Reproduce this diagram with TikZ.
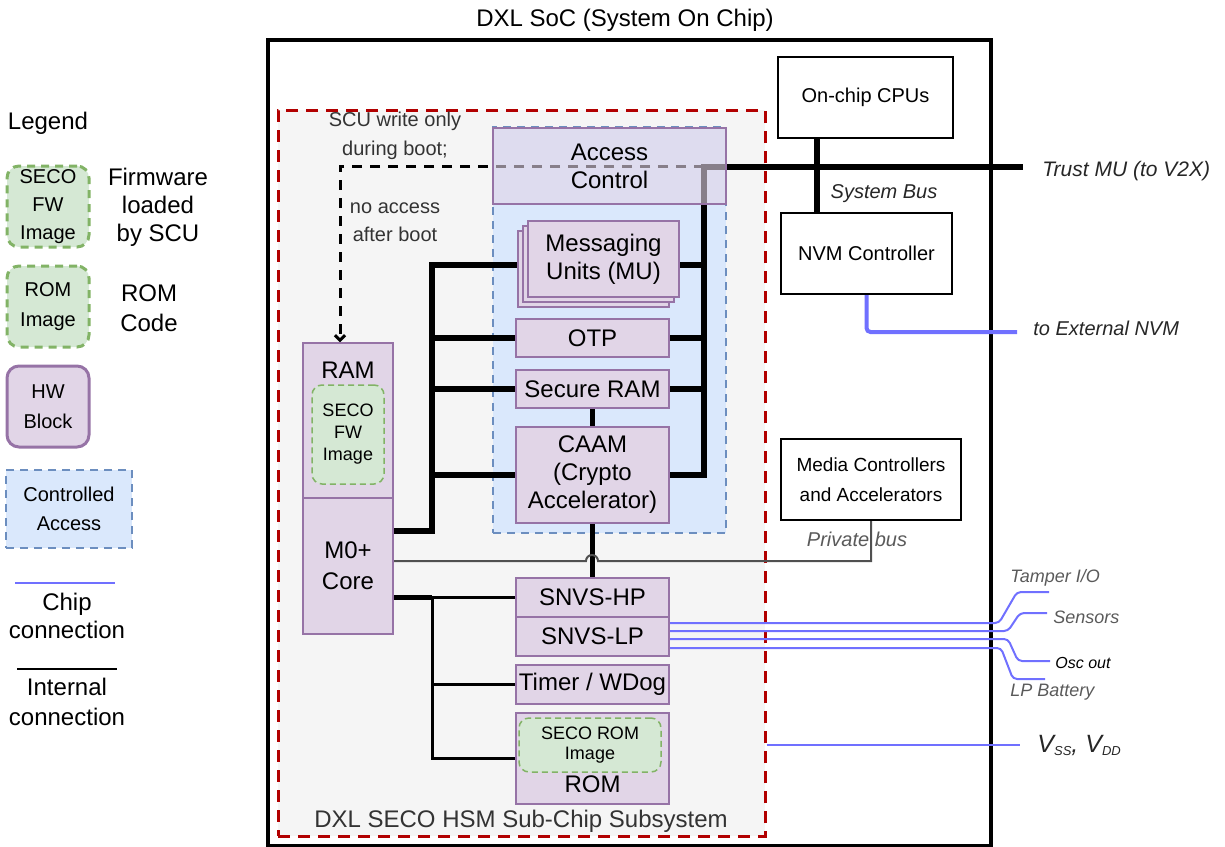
\documentclass[tikz,border=0pt]{standalone}
\usepackage{fontspec}
\setmainfont{Liberation Sans}
\usetikzlibrary{shadows,arrows.meta}
\definecolor{hwfill}{RGB}{225,213,231}
\definecolor{hwline}{RGB}{150,115,166}
\definecolor{imgfill}{RGB}{213,232,212}
\definecolor{imgline}{RGB}{130,179,102}
\definecolor{acfill}{RGB}{218,232,252}
\definecolor{acline}{RGB}{108,142,191}
\definecolor{subfill}{RGB}{245,245,245}
\definecolor{subline}{RGB}{178,0,0}
\definecolor{chipblue}{RGB}{112,112,255}
\definecolor{txtgray}{RGB}{90,90,90}
\definecolor{privgray}{RGB}{80,80,80}
\pgfdeclarelayer{bg}
\pgfdeclarelayer{wires}
\pgfsetlayers{bg,wires,main}
\newcommand{\bigf}{\fontsize{12}{14}\selectfont}
\newcommand{\midf}{\fontsize{10}{14}\selectfont}
\newcommand{\smlf}{\fontsize{9}{11}\selectfont}
\newcommand{\vsub}[1]{\raisebox{-1.5pt}{\fontsize{6.5}{7}\selectfont #1}}

\begin{document}
\begin{tikzpicture}[x=0.5pt, y=-0.5pt,
    box/.style={inner sep=0pt, align=center},
    hw/.style={box, draw=hwline, line width=0.75pt, fill=hwfill, font=\bigf},
    soc/.style={box, draw=black, line width=0.75pt, fill=white, font=\midf},
    img/.style={box, draw=imgline, fill=imgfill, line width=0.75pt, dash pattern=on 3pt off 2pt, rounded corners=5pt, font=\smlf},
    keyimg/.style={img, line width=1.5pt, dash pattern=on 4pt off 3pt, rounded corners=6pt, font=\midf},
    ctrlbox/.style={box, draw=acline, fill=acfill, line width=0.75pt, dash pattern=on 4pt off 3pt, font=\fontsize{10}{14.5}\selectfont},
    bus/.style={line width=3pt},
    link/.style={line width=2.5pt},
    wire/.style={line width=1.5pt},
    priv/.style={draw=privgray, line width=1pt},
    chip/.style={draw=chipblue, line width=1pt, rounded corners=2pt},
    scu/.style={line width=1.5pt, dash pattern=on 5pt off 4pt, -{Straight Barb[length=2.5pt,width=5pt]}},
    note/.style={font=\itshape\midf, text=black!85},
    sig/.style={font=\itshape\fontsize{9}{10}\selectfont, text=txtgray, anchor=west, inner sep=0pt},
]
\useasboundingbox (0,0) rectangle (1225,846);

\begin{pgfonlayer}{bg}
\node[box, draw, line width=2.25pt, fill=white, minimum width=361.5pt, minimum height=403pt] (soc) at (629.5,443) {};
\node[box, draw=subline, line width=1.5pt, dash pattern=on 6pt off 4pt, fill=subfill, minimum width=243.5pt, minimum height=363pt] (sub) at (521.5,473) {};
\node[ctrlbox, minimum width=116.5pt, minimum height=203pt] (ctrl) at (609.5,330) {};
\end{pgfonlayer}

\node[font=\bigf] (title) at (625,20) {DXL SoC (System On Chip)};
\node[font=\bigf, text=black!80] (subtxt) at (521,821) {DXL SECO HSM Sub-Chip Subsystem};

\node[hw, minimum width=116.5pt, minimum height=38pt, fill opacity=0.6, text opacity=1] (acc) at (609.5,166) {Access\\Control};
\node[hw, minimum width=75.5pt, minimum height=38pt,
    copy shadow={shadow xshift=-5pt, shadow yshift=-5pt},
    copy shadow={shadow xshift=-2.5pt, shadow yshift=-2.5pt}] (mu) at (603.5,259) {Messaging\\Units (MU)};
\node[hw, minimum width=76.5pt, minimum height=19pt] (otp) at (592.5,338) {OTP};
\node[hw, minimum width=76.5pt, minimum height=19pt] (sram) at (592.5,389) {Secure RAM};
\node[hw, minimum width=76.5pt, minimum height=48pt] (caam) at (592.5,475) {CAAM\\(Crypto\\Accelerator)};
\node[hw, minimum width=76.5pt, minimum height=19.5pt] (snvshp) at (592.5,597.5) {SNVS-HP};
\node[hw, minimum width=76.5pt, minimum height=19.5pt] (snvslp) at (592.5,636.5) {SNVS-LP};
\node[hw, minimum width=76.5pt, minimum height=19.5pt] (timer) at (592.5,684.5) {Timer / WDog};
\node[hw, minimum width=76.5pt, minimum height=45.5pt] (rom) at (592.5,758.5) {};
\node[font=\bigf] (romtxt) at (592.5,784) {ROM};
\node[img, minimum width=71pt, minimum height=27pt, font=\fontsize{9}{10}\selectfont] (romimg) at (590,745) {SECO ROM\\Image};

\node[hw, minimum width=45pt, minimum height=77.5pt] (ram) at (348,420.5) {};
\node[font=\bigf] (ramtxt) at (348,370) {RAM};
\node[img, minimum width=36pt, minimum height=49.5pt] (ramimg) at (348,434.5) {SECO\\FW\\Image};
\node[hw, minimum width=45pt, minimum height=68pt, font=\fontsize{12}{15.5}\selectfont] (m0) at (348,566) {M0+\\Core};

\node[font=\fontsize{10}{14.5}\selectfont, text=black!80, align=center] (scutxt) at (395,136) {SCU write only\\during boot;};
\node[font=\midf, text=black!80, align=center] (noacc) at (395,222) {no access\\after boot};

\node[soc, minimum width=87.5pt, minimum height=40.5pt] (cpu) at (865.5,97.5) {On-chip CPUs};
\node[soc, minimum width=85.5pt, minimum height=40.5pt] (nvm) at (866.5,253.5) {NVM Controller};
\node[soc, minimum width=90pt, minimum height=40.5pt, font=\fontsize{9.5}{15}\selectfont] (media) at (871,479.5) {Media Controllers\\and Accelerators};

\node[note] (systxt) at (884,194) {System Bus};
\node[note, anchor=west, inner sep=0pt, font=\itshape\fontsize{10.5}{12}\selectfont] (trusttxt) at (1042,171) {Trust MU (to V2X)};
\node[note, anchor=west, inner sep=0pt] (nvmtxt) at (1033,328) {to External NVM};
\node[note, text=txtgray] (privtxt) at (857,539) {Private bus};
\node[sig] (tampertxt) at (1010,578) {Tamper I/O};
\node[sig] (senstxt) at (1053,617) {Sensors};
\node[sig, text=black, font=\itshape\fontsize{8}{9}\selectfont] (osctxt) at (1055,663) {Osc out};
\node[sig] (lptxt) at (1010,692) {LP Battery};
\node[anchor=west, inner sep=0pt, text=black!85, font=\itshape\fontsize{12.5}{14}\selectfont] (vsstxt) at (1037,745) {V\vsub{SS}, V\vsub{DD}};

\begin{pgfonlayer}{wires}
\coordinate (lb) at (432,531);
\coordinate (rb) at (704,167);
\coordinate (trust) at (1023,167);
\coordinate (lw) at (432,597.5);
\coordinate (scuend) at (704,166);
\coordinate (extnvm) at (1017,332);
\coordinate (tamper) at (1049,592);
\coordinate (sensors) at (1047,613);
\coordinate (osc) at (1050,661);
\coordinate (lpbat) at (1045,679);
\coordinate (vss) at (1020,745);

\draw[bus] ([yshift=17.5pt]m0.east) -- (lb) |- ([yshift=-3pt]mu.west);
\draw[bus] (lb |- otp.west) -- (otp.west);
\draw[bus] (lb |- sram.west) -- (sram.west);
\draw[bus] (lb |- caam.west) -- (caam.west);
\draw[bus] (caam.east) -| (rb) -- (trust);
\draw[bus] ([yshift=-3pt]mu.east) -- ++(12.5pt,0);
\draw[bus] (otp.east) -- (rb |- otp.east);
\draw[bus] (sram.east) -- (rb |- sram.east);
\draw[link] (sram) -- (caam);
\draw[link] (caam) -- (snvshp);
\draw[link] ([yshift=-15.75pt]m0.east) -- (lw);
\draw[wire] (lw) -- (snvshp.west);
\draw[wire] (lw) |- (rom.west);
\draw[wire] (lw |- timer.west) -- (timer.west);
\draw[priv] ([yshift=2.5pt]m0.east) -- (586,561) arc[start angle=180, end angle=0, radius=3pt] -| (media.south);
\draw[scu] (scuend) -| ([xshift=-4pt]ram.north);

\draw[bus] ([xshift=20pt]cpu.south west) -- ([xshift=18.5pt]nvm.north west);
\draw[chip, line width=2pt] (nvm.south) |- (extnvm);

\draw[chip] ([yshift=6.75pt]snvslp.east) -- (999,623) -- (1017,592) -- (tamper);
\draw[chip] ([yshift=2.75pt]snvslp.east) -- (1008,631) -- (1020,613) -- (sensors);
\draw[chip] ([yshift=-1.25pt]snvslp.east) -- (1008,639) -- (1018,661) -- (osc);
\draw[chip] ([yshift=-5.75pt]snvslp.east) -- (1001,648) -- (1013,679) -- (lpbat);
\draw[chip] (sub.east |- vss) -- (vss);
\end{pgfonlayer}

\node[font=\bigf] (legtxt) at (48,123) {Legend};
\node[keyimg, minimum width=41pt, minimum height=40.5pt] (keyfw) at (48,206.5) {SECO\\FW\\Image};
\node[font=\bigf, align=center] (keyfwtxt) at (158,207) {Firmware\\loaded\\by SCU};
\node[keyimg, minimum width=41pt, minimum height=40.5pt, font=\fontsize{10}{15}\selectfont] (keyrom) at (48,306.5) {ROM\\Image};
\node[font=\fontsize{12}{15}\selectfont, align=center] (keyromtxt) at (149,308) {ROM\\Code};
\node[hw, line width=1.5pt, rounded corners=6pt, minimum width=41pt, minimum height=40.5pt, font=\fontsize{10}{15}\selectfont] (keyhw) at (48,406.5) {HW\\Block};
\node[ctrlbox, minimum width=63pt, minimum height=39pt] (keyctrl) at (69,509) {Controlled\\Access};
\coordinate (kc1) at (15,583);
\coordinate (kc2) at (115,583);
\draw[chip] (kc1) -- (kc2);
\node[font=\bigf, align=center] (keychip) at (67,616) {Chip\\connection};
\coordinate (ki1) at (17,669);
\coordinate (ki2) at (117,669);
\draw[line width=1pt] (ki1) -- (ki2);
\node[font=\fontsize{12}{15}\selectfont, align=center] (keyint) at (67,702) {Internal\\connection};

\end{tikzpicture}
\end{document}
